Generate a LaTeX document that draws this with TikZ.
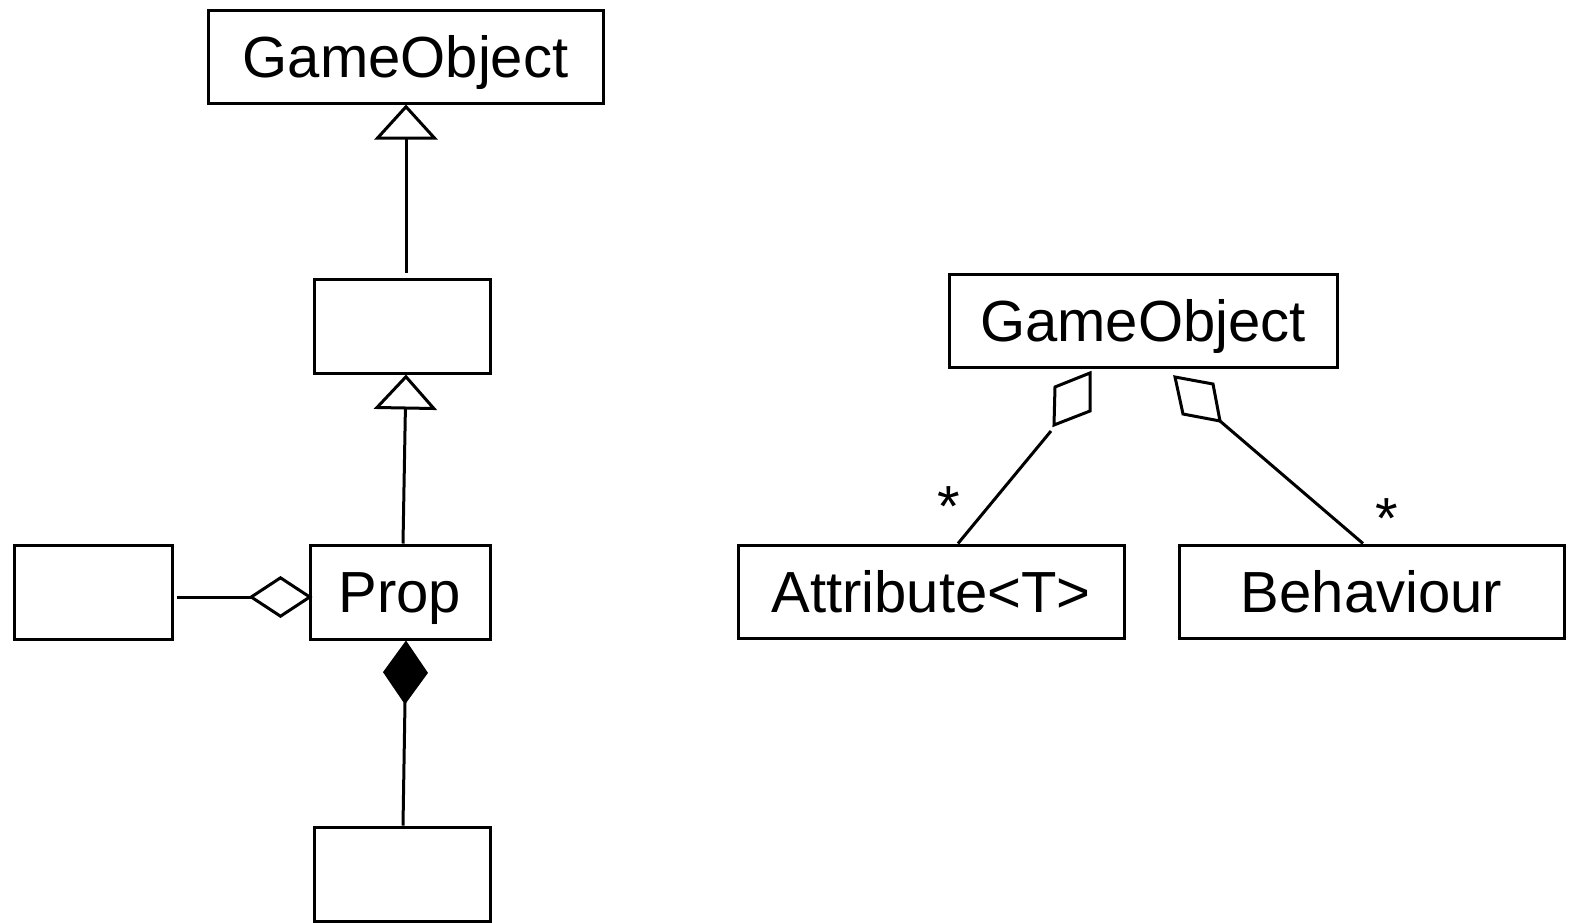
\documentclass[tikz,border=0pt]{standalone}
\usepackage{fontspec}
\setmainfont{Liberation Sans}
\usetikzlibrary{arrows.meta,calc}
\begin{document}
\begin{tikzpicture}[x=0.5pt,y=-0.5pt,line width=1.5pt,
  umlfont/.style={font=\fontsize{29}{35}\selectfont},
  cls/.style={draw,rectangle,inner sep=0pt,umlfont,text height=20.8pt,text depth=0pt},
  inherit/.style={-{Triangle[open,length=17.5pt,width=31.5pt]}},
  aggreg/.style={-{Diamond[open,length=32pt,width=21pt]}},
  compos/.style={-{Diamond[length=32pt,width=22.5pt]}},
  mult/.style={umlfont,inner sep=0pt,anchor=base},
  hollow/.style={draw,fill=white,line join=miter}
]
\useasboundingbox (0,0) rectangle (1569,922);

% left diagram: class hierarchy around Prop
\node[cls,minimum width=197.5pt,minimum height=46.5pt] (go1) at (405.5,56.5) {GameObject};
\node[cls,minimum width=88pt,minimum height=47pt] (mid) at (402,326) {};
\node[cls,minimum width=90pt,minimum height=47pt] (prop) at (400,592) {Prop};
\node[cls,minimum width=79pt,minimum height=47pt] (side) at (93,592) {};
\node[cls,minimum width=88pt,minimum height=47pt] (part) at (402,874) {};

\draw[inherit,shorten <=2.5pt] ($(mid.north)+(4,0)$) -- ($(go1.south)+(0.5,0)$);
\draw[inherit] ($(prop.north)+(3,0)$) -- ($(mid.south)+(4,0)$);
\draw[aggreg,shorten <=1.5pt,shorten >=-2pt] ($(side.east)+(0,5)$) -- ($(prop.west)+(0,5)$);
\draw[compos] ($(part.north)+(1,0)$) -- ($(prop.south)+(6,0)$);

% right diagram: GameObject composed of attributes and behaviours
\node[cls,minimum width=194pt,minimum height=46.5pt] (go2) at (1143,320.5) {GameObject};
\node[cls,minimum width=193pt,minimum height=46.5pt] (attr) at (931,591.5) {Attribute<T>};
\node[cls,minimum width=192.5pt,minimum height=46.5pt] (behav) at (1371.5,591.5) {Behaviour};

\coordinate (aggA) at (1051,431);
\coordinate (aggB) at (1220,421);
\draw[hollow] (1090,373) -- (1055,387) -- (1054,425) -- (1090,411) -- cycle;
\draw[hollow] (1175,377) -- (1213,384) -- (1220,421) -- (1183,414) -- cycle;
\draw ($(attr.north)+(27,0)$) -- (aggA);
\draw ($(behav.north)+(-8.5,0)$) -- (aggB);

\node[mult] (multA) at (949,526.5) {*};
\node[mult] (multB) at (1387,538.5) {*};
\end{tikzpicture}
\end{document}
